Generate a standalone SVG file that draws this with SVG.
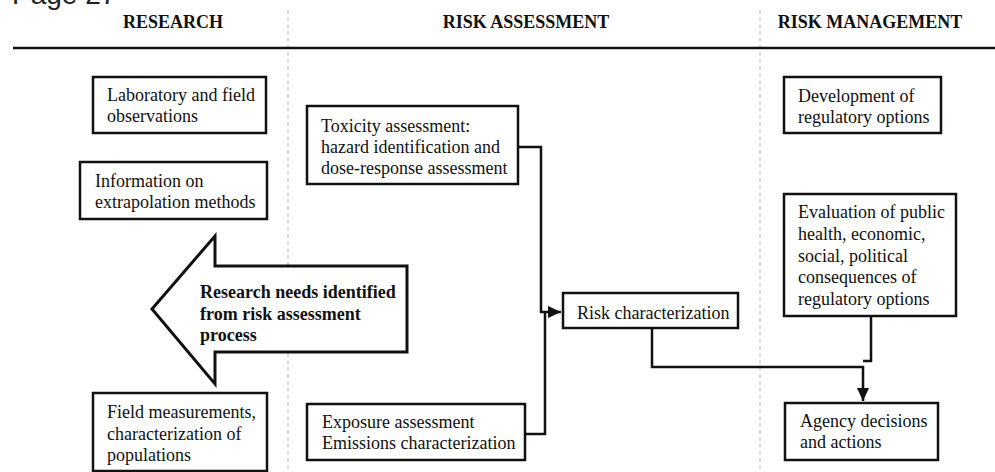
<svg xmlns="http://www.w3.org/2000/svg" width="995" height="472" viewBox="0 0 995 472">
<defs>
<style>
.hdr{font-family:"Liberation Serif","Times New Roman",serif;font-size:18px;font-weight:bold;fill:#111;text-anchor:middle}
.t{font-family:"Liberation Serif","Times New Roman",serif;font-size:18px;fill:#111}
.tb{font-family:"Liberation Serif","Times New Roman",serif;font-size:18px;font-weight:bold;fill:#111}
.box{fill:#fff;stroke:#111;stroke-width:2.5}
.con{fill:none;stroke:#111;stroke-width:2.5}
.dash{stroke:#bbb;stroke-width:1;stroke-dasharray:4 3}
</style>
<marker id="ah" markerUnits="userSpaceOnUse" markerWidth="14" markerHeight="12" refX="13" refY="6" orient="auto">
<path d="M0,0 L13,6 L0,12 Z" fill="#111"/>
</marker>
</defs>
<rect width="995" height="472" fill="#fff"/>
<text x="12" y="4" style="font-family:'Liberation Sans',Arial,sans-serif;font-size:28px;fill:#222">Page 27</text>
<g id="columns">
<line class="dash" x1="288" y1="10" x2="288" y2="472"/>
<line class="dash" x1="760" y1="10" x2="760" y2="472"/>
<line x1="13" y1="48" x2="995" y2="48" stroke="#111" stroke-width="2.5"/>
<text class="hdr" x="173" y="28">RESEARCH</text>
<text class="hdr" x="526" y="28">RISK ASSESSMENT</text>
<text class="hdr" x="870" y="28">RISK MANAGEMENT</text>
</g>
<g id="connectors">
<path class="con" d="M518,147 H541 V312 H561" marker-end="url(#ah)"/>
<path class="con" d="M525,434 H545 V312"/>
<path class="con" d="M652,328 V367 H863 V401" marker-end="url(#ah)"/>
<path class="con" d="M871,316 V361 H863"/>
</g>
<g id="lab">
<rect class="box" x="93" y="77" width="173" height="56"/>
<text class="t" x="107" y="101">Laboratory and field</text>
<text class="t" x="107" y="122">observations</text>
</g>
<g id="info">
<rect class="box" x="80" y="162" width="187" height="57"/>
<text class="t" x="95" y="187">Information on</text>
<text class="t" x="95" y="208">extrapolation methods</text>
</g>
<g id="research-needs">
<polygon class="box" style="stroke-width:3" points="152,309 215,236 215,266 407,266 407,352 215,352 215,384"/>
<text class="tb" x="200" y="298">Research needs identified</text>
<text class="tb" x="200" y="320">from risk assessment</text>
<text class="tb" x="200" y="341">process</text>
</g>
<g id="field">
<rect class="box" x="93" y="393" width="174" height="78"/>
<text class="t" x="107" y="418">Field measurements,</text>
<text class="t" x="107" y="440">characterization of</text>
<text class="t" x="107" y="461">populations</text>
</g>
<g id="toxicity">
<rect class="box" x="307" y="106" width="211" height="78"/>
<text class="t" x="321" y="132">Toxicity assessment:</text>
<text class="t" x="321" y="153">hazard identification and</text>
<text class="t" x="321" y="174">dose-response assessment</text>
</g>
<g id="exposure">
<rect class="box" x="307" y="404" width="218" height="56"/>
<text class="t" x="322" y="428">Exposure assessment</text>
<text class="t" x="322" y="449">Emissions characterization</text>
</g>
<g id="risk-char">
<rect class="box" x="563" y="293" width="175" height="35"/>
<text class="t" x="577" y="319">Risk characterization</text>
</g>
<g id="development">
<rect class="box" x="784" y="77" width="157" height="56"/>
<text class="t" x="798" y="102">Development of</text>
<text class="t" x="798" y="123">regulatory options</text>
</g>
<g id="evaluation">
<rect class="box" x="784" y="194" width="172" height="122"/>
<text class="t" x="798" y="218">Evaluation of public</text>
<text class="t" x="798" y="240">health, economic,</text>
<text class="t" x="798" y="262">social, political</text>
<text class="t" x="798" y="283">consequences of</text>
<text class="t" x="798" y="305">regulatory options</text>
</g>
<g id="agency">
<rect class="box" x="785" y="403" width="153" height="57"/>
<text class="t" x="800" y="427">Agency decisions</text>
<text class="t" x="800" y="448">and actions</text>
</g>
</svg>
